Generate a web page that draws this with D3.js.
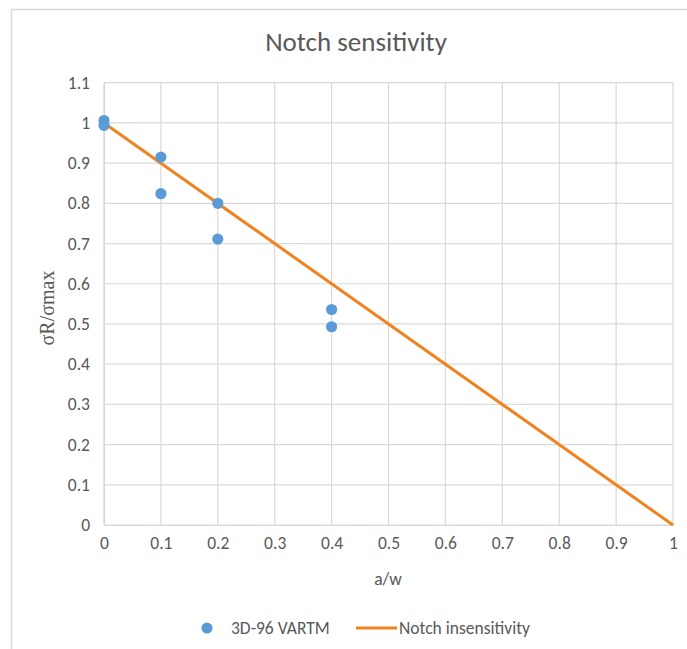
<!DOCTYPE html>
<html>
<head>
<meta charset="utf-8">
<script src="https://cdn.jsdelivr.net/npm/d3@7"></script>
<style>
  html, body { margin: 0; padding: 0; background: #fff; }
  svg text { font-family: Carlito, "Open Sans", "Liberation Sans", sans-serif; fill: #595959; }
</style>
</head>
<body>
<svg id="chart" width="687" height="649"></svg>
<script>
// Measured specimens: notch ratio a/w and normalised strength σR/σmax
const specimenA = [0, 0, 0.1, 0.1, 0.2, 0.2, 0.4, 0.4];
const specimenS = [1.006, 0.994, 0.915, 0.824, 0.80, 0.711, 0.536, 0.493];
// Notch-insensitive reference line
const refA = [0, 1];
const refS = [1, 0];
const xTicks = [0, 0.1, 0.2, 0.3, 0.4, 0.5, 0.6, 0.7, 0.8, 0.9, 1];
const yTicks = [0, 0.1, 0.2, 0.3, 0.4, 0.5, 0.6, 0.7, 0.8, 0.9, 1, 1.1];

const svg = d3.select("#chart");
const blue = "#5B9BD5", orange = "#F0831F", grid = "#d9d9d9";
const labelFont = 'Carlito, "Open Sans", "Liberation Sans", sans-serif';

// chart frame (top and left edges visible)
svg.append("line").attr("x1", 11).attr("x2", 687).attr("y1", 9.5).attr("y2", 9.5)
  .attr("stroke", "#d9d9d9").attr("stroke-width", 1.5);
svg.append("line").attr("x1", 11.5).attr("x2", 11.5).attr("y1", 9).attr("y2", 649)
  .attr("stroke", "#d9d9d9").attr("stroke-width", 1.5);

const x = d3.scaleLinear().domain([0, 1]).range([104, 673]);
const y = d3.scaleLinear().domain([0, 1.1]).range([525, 82.7]);

// gridlines
svg.append("g").selectAll("line").data(yTicks).join("line")
  .attr("x1", x(0)).attr("x2", x(1))
  .attr("y1", d => y(d)).attr("y2", d => y(d))
  .attr("stroke", grid).attr("stroke-width", 1.2);
svg.append("g").selectAll("line").data(xTicks).join("line")
  .attr("x1", d => x(d)).attr("x2", d => x(d))
  .attr("y1", y(0)).attr("y2", y(1.1))
  .attr("stroke", grid).attr("stroke-width", 1.2);

// axes
const xAxis = svg.append("g").attr("transform", `translate(0,${y(0)})`)
  .call(d3.axisBottom(x).tickValues(xTicks).tickSize(0).tickPadding(12).tickFormat(d3.format("")));
const yAxis = svg.append("g").attr("transform", `translate(${x(0)},0)`)
  .call(d3.axisLeft(y).tickValues(yTicks).tickSize(0).tickPadding(14).tickFormat(d3.format("")));
[xAxis, yAxis].forEach(g => {
  g.select(".domain").attr("stroke", grid).attr("stroke-width", 1.2);
  g.selectAll("text").attr("font-size", 17.5).attr("fill", "#595959")
    .style("font-family", labelFont);
});

// reference line
svg.append("path")
  .datum(refA.map((a, i) => [a, refS[i]]))
  .attr("d", d3.line().x(d => x(d[0])).y(d => y(d[1])))
  .attr("fill", "none").attr("stroke", orange).attr("stroke-width", 3);

// specimen points
svg.append("g").selectAll("circle").data(specimenA.map((a, i) => [a, specimenS[i]])).join("circle")
  .attr("cx", d => x(d[0])).attr("cy", d => y(d[1])).attr("r", 5.6)
  .attr("fill", blue);

// titles
svg.append("text").attr("x", 356).attr("y", 51).attr("text-anchor", "middle")
  .attr("font-size", 27).text("Notch sensitivity");
svg.append("text").attr("x", 388).attr("y", 585).attr("text-anchor", "middle")
  .attr("font-size", 17.5).text("a/w");
svg.append("text").attr("transform", `translate(54,308) rotate(-90)`)
  .attr("text-anchor", "middle").attr("font-size", 20)
  .style("font-family", '"Liberation Serif", "DejaVu Serif", serif').text("σR/σmax");

// legend
const lg = svg.append("g");
lg.append("circle").attr("cx", 207).attr("cy", 628).attr("r", 5.6).attr("fill", blue);
lg.append("text").attr("x", 231).attr("y", 634).attr("font-size", 17.5).text("3D-96 VARTM");
lg.append("line").attr("x1", 356).attr("x2", 397).attr("y1", 628).attr("y2", 628)
  .attr("stroke", orange).attr("stroke-width", 3);
lg.append("text").attr("x", 399).attr("y", 634).attr("font-size", 17.5).text("Notch insensitivity");
</script>
</body>
</html>
